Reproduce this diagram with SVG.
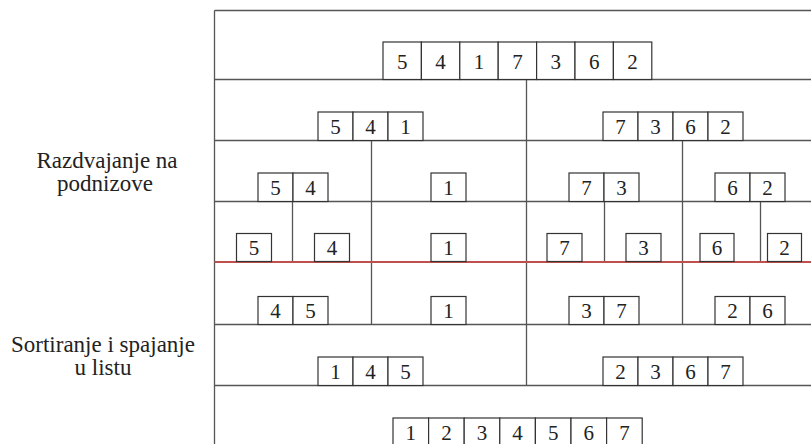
<svg xmlns="http://www.w3.org/2000/svg" width="811" height="444" viewBox="0 0 811 444">
<style>
.bg{fill:#ffffff}
.grid{stroke:#555555;stroke-width:1.3;fill:none}
.red{stroke:#c0504d;stroke-width:2;fill:none}
.cell{fill:#ffffff;stroke:#333333;stroke-width:1.2}
.d{font-family:'Times New Roman',Times,'Liberation Serif','Noto Serif','DejaVu Serif',serif;font-size:21px;fill:#222222;text-anchor:middle}
.lbl{font-family:'Times New Roman',Times,'Liberation Serif','Noto Serif','DejaVu Serif',serif;font-size:23px;fill:#222222;text-anchor:middle}
</style>
<rect class="bg" x="0" y="0" width="811" height="444"/>
<g id="connectors">
  <path class="grid" d="M214.5 10.5 H840 M214.5 10.5 V444"/>
  <path class="grid" d="M214.5 79.5 H840 M214.5 140.5 H840 M214.5 201.5 H840 M214.5 324.5 H840 M214.5 385.5 H840"/>
  <path class="grid" d="M526.5 79.5 V140.5"/>
  <path class="grid" d="M371.5 140.5 V201.5 M526.5 140.5 V201.5 M682.5 140.5 V201.5"/>
  <path class="grid" d="M292.5 201.5 V262 M371.5 201.5 V262 M526.5 201.5 V262 M604.5 201.5 V262 M682.5 201.5 V262 M760.5 201.5 V262"/>
  <path class="grid" d="M371.5 262 V324.5 M526.5 262 V324.5 M682.5 262 V324.5"/>
  <path class="grid" d="M526.5 324.5 V385.5"/>
  <path class="red" d="M214.5 262 H840"/>
</g>
<g id="label-split">
  <text class="lbl" x="107" y="168">Razdvajanje na</text>
  <text class="lbl" x="105" y="191">podnizove</text>
</g>
<g id="label-merge">
  <text class="lbl" x="103" y="352">Sortiranje i spajanje</text>
  <text class="lbl" x="103" y="375">u listu</text>
</g>
<g id="row1-5417362">
  <rect class="cell" x="383" y="42" width="38.4" height="37.5"/>
  <rect class="cell" x="421.4" y="42" width="38.4" height="37.5"/>
  <rect class="cell" x="459.8" y="42" width="38.4" height="37.5"/>
  <rect class="cell" x="498.2" y="42" width="38.4" height="37.5"/>
  <rect class="cell" x="536.6" y="42" width="38.4" height="37.5"/>
  <rect class="cell" x="575" y="42" width="38.4" height="37.5"/>
  <rect class="cell" x="613.4" y="42" width="38.4" height="37.5"/>
  <text class="d" x="402.2" y="69">5</text>
  <text class="d" x="440.6" y="69">4</text>
  <text class="d" x="479" y="69">1</text>
  <text class="d" x="517.4" y="69">7</text>
  <text class="d" x="555.8" y="69">3</text>
  <text class="d" x="594.2" y="69">6</text>
  <text class="d" x="632.6" y="69">2</text>
</g>
<g id="row2-541">
  <rect class="cell" x="318" y="112" width="35" height="28.5"/>
  <rect class="cell" x="353" y="112" width="35" height="28.5"/>
  <rect class="cell" x="388" y="112" width="35" height="28.5"/>
  <text class="d" x="335.5" y="134">5</text>
  <text class="d" x="370.5" y="134">4</text>
  <text class="d" x="405.5" y="134">1</text>
</g>
<g id="row2-7362">
  <rect class="cell" x="603" y="112" width="35" height="28.5"/>
  <rect class="cell" x="638" y="112" width="35" height="28.5"/>
  <rect class="cell" x="673" y="112" width="35" height="28.5"/>
  <rect class="cell" x="708" y="112" width="35" height="28.5"/>
  <text class="d" x="620.5" y="134">7</text>
  <text class="d" x="655.5" y="134">3</text>
  <text class="d" x="690.5" y="134">6</text>
  <text class="d" x="725.5" y="134">2</text>
</g>
<g id="row3-54">
  <rect class="cell" x="258" y="173" width="35" height="28.5"/>
  <rect class="cell" x="293" y="173" width="35" height="28.5"/>
  <text class="d" x="275.5" y="195">5</text>
  <text class="d" x="310.5" y="195">4</text>
</g>
<g id="row3-1">
  <rect class="cell" x="431" y="173" width="35" height="28.5"/>
  <text class="d" x="448.5" y="195">1</text>
</g>
<g id="row3-73">
  <rect class="cell" x="569" y="173" width="35" height="28.5"/>
  <rect class="cell" x="604" y="173" width="35" height="28.5"/>
  <text class="d" x="586.5" y="195">7</text>
  <text class="d" x="621.5" y="195">3</text>
</g>
<g id="row3-62">
  <rect class="cell" x="715" y="173" width="35" height="28.5"/>
  <rect class="cell" x="750" y="173" width="35" height="28.5"/>
  <text class="d" x="732.5" y="195">6</text>
  <text class="d" x="767.5" y="195">2</text>
</g>
<g id="row4-5">
  <rect class="cell" x="236.5" y="233.5" width="35" height="28"/>
  <text class="d" x="254" y="255">5</text>
</g>
<g id="row4-4">
  <rect class="cell" x="314.5" y="233.5" width="35" height="28"/>
  <text class="d" x="332" y="255">4</text>
</g>
<g id="row4-1">
  <rect class="cell" x="431" y="233.5" width="35" height="28"/>
  <text class="d" x="448.5" y="255">1</text>
</g>
<g id="row4-7">
  <rect class="cell" x="547" y="233.5" width="35" height="28"/>
  <text class="d" x="564.5" y="255">7</text>
</g>
<g id="row4-3">
  <rect class="cell" x="626" y="233.5" width="35" height="28"/>
  <text class="d" x="643.5" y="255">3</text>
</g>
<g id="row4-6">
  <rect class="cell" x="700" y="233.5" width="34" height="28"/>
  <text class="d" x="717" y="255">6</text>
</g>
<g id="row4-2">
  <rect class="cell" x="767.5" y="233.5" width="34" height="28"/>
  <text class="d" x="784.5" y="255">2</text>
</g>
<g id="row5-45">
  <rect class="cell" x="258" y="296.5" width="35" height="28"/>
  <rect class="cell" x="293" y="296.5" width="35" height="28"/>
  <text class="d" x="275.5" y="318">4</text>
  <text class="d" x="310.5" y="318">5</text>
</g>
<g id="row5-1">
  <rect class="cell" x="431" y="296.5" width="35" height="28"/>
  <text class="d" x="448.5" y="318">1</text>
</g>
<g id="row5-37">
  <rect class="cell" x="569" y="296.5" width="35" height="28"/>
  <rect class="cell" x="604" y="296.5" width="35" height="28"/>
  <text class="d" x="586.5" y="318">3</text>
  <text class="d" x="621.5" y="318">7</text>
</g>
<g id="row5-26">
  <rect class="cell" x="715" y="296.5" width="35" height="28"/>
  <rect class="cell" x="750" y="296.5" width="35" height="28"/>
  <text class="d" x="732.5" y="318">2</text>
  <text class="d" x="767.5" y="318">6</text>
</g>
<g id="row6-145">
  <rect class="cell" x="318" y="357" width="35" height="28.5"/>
  <rect class="cell" x="353" y="357" width="35" height="28.5"/>
  <rect class="cell" x="388" y="357" width="35" height="28.5"/>
  <text class="d" x="335.5" y="379">1</text>
  <text class="d" x="370.5" y="379">4</text>
  <text class="d" x="405.5" y="379">5</text>
</g>
<g id="row6-2367">
  <rect class="cell" x="603" y="357" width="35" height="28.5"/>
  <rect class="cell" x="638" y="357" width="35" height="28.5"/>
  <rect class="cell" x="673" y="357" width="35" height="28.5"/>
  <rect class="cell" x="708" y="357" width="35" height="28.5"/>
  <text class="d" x="620.5" y="379">2</text>
  <text class="d" x="655.5" y="379">3</text>
  <text class="d" x="690.5" y="379">6</text>
  <text class="d" x="725.5" y="379">7</text>
</g>
<g id="row7-1234567">
  <rect class="cell" x="393" y="418" width="35.6" height="30"/>
  <rect class="cell" x="428.6" y="418" width="35.6" height="30"/>
  <rect class="cell" x="464.2" y="418" width="35.6" height="30"/>
  <rect class="cell" x="499.8" y="418" width="35.6" height="30"/>
  <rect class="cell" x="535.4" y="418" width="35.6" height="30"/>
  <rect class="cell" x="571" y="418" width="35.6" height="30"/>
  <rect class="cell" x="606.6" y="418" width="35.6" height="30"/>
  <text class="d" x="410.8" y="440">1</text>
  <text class="d" x="446.4" y="440">2</text>
  <text class="d" x="482" y="440">3</text>
  <text class="d" x="517.6" y="440">4</text>
  <text class="d" x="553.2" y="440">5</text>
  <text class="d" x="588.8" y="440">6</text>
  <text class="d" x="624.4" y="440">7</text>
</g>
</svg>
